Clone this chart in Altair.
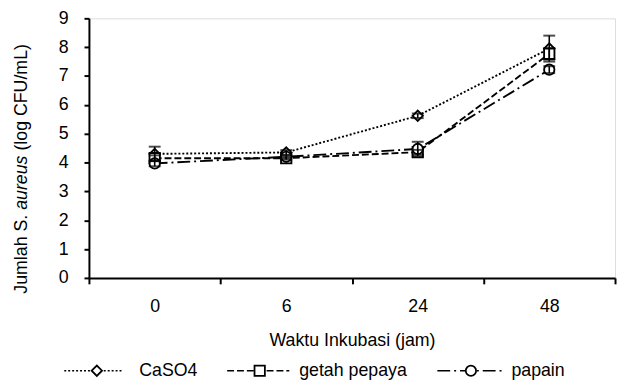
import altair as alt
import pandas as pd

# ---- data ----
hours = ["0", "6", "24", "48"]
series = ["CaSO4", "getah pepaya", "papain"]
caso4 = [4.30, 4.35, 5.62, 7.95]
getah = [4.15, 4.15, 4.36, 7.77]
papain = [3.97, 4.20, 4.47, 7.22]
err_caso4 = [0.25, 0.08, 0.08, 0.45]
err_getah = [0.10, 0.05, 0.08, 0.20]
err_papain = [0.10, 0.05, 0.25, 0.12]

rows = []
for name, vals, errs in zip(series, [caso4, getah, papain], [err_caso4, err_getah, err_papain]):
    for h, v, e in zip(hours, vals, errs):
        rows.append({"hour": h, "series": name, "value": v, "lo": v - e, "hi": v + e})
df = pd.DataFrame(rows)

FONT = "Liberation Sans"
FS = 18
W, H = 533, 263

xscale = alt.Scale(type="band", paddingInner=0, paddingOuter=0)
xaxis = alt.Axis(title="Waktu Inkubasi (jam)", labelAngle=0, tickBand="extent",
                 domainColor="black", domainWidth=2, tickColor="black", tickWidth=2,
                 tickSize=6, labelFont=FONT, labelFontSize=FS, labelColor="black",
                 labelPadding=14, titleFont=FONT, titleFontSize=FS, titleFontWeight="normal",
                 titleColor="black", titlePadding=16, grid=False)
yscale = alt.Scale(domain=[0, 9], nice=False, zero=True)
yaxis = alt.Axis(title=None, values=list(range(10)), domainColor="black", domainWidth=2,
                 tickColor="black", tickWidth=2, tickSize=5, labelFont=FONT,
                 labelFontSize=FS, labelColor="black", labelPadding=16, grid=False)


def X():
    return alt.X("hour:N", sort=hours, scale=xscale, axis=xaxis)


def Y(field):
    return alt.Y(f"{field}:Q", scale=yscale, axis=yaxis)


dashes = [[2, 2], [7, 3], [13, 4, 2, 4]]
shapes = ["diamond", "square", "circle"]
dash = alt.StrokeDash("series:N", scale=alt.Scale(domain=series, range=dashes), legend=None)
shape = alt.Shape("series:N", scale=alt.Scale(domain=series, range=shapes), legend=None)

base = alt.Chart(df)
lines = base.mark_line(color="black", strokeWidth=1.9).encode(x=X(), y=Y("value"), strokeDash=dash,
                                                              detail="series:N")
points = base.mark_point(filled=True, fill="white", stroke="black", strokeWidth=1.9, size=110,
                         opacity=1).encode(x=X(), y=Y("value"), shape=shape)
ebar = base.mark_rule(color="black", strokeWidth=1.6).encode(x=X(), y=Y("lo"), y2="hi:Q")
cap_hi = base.mark_tick(color="black", thickness=2, size=12).encode(x=X(), y=Y("hi"))
cap_lo = base.mark_tick(color="black", thickness=2, size=12).encode(x=X(), y=Y("lo"))

one = alt.Chart(pd.DataFrame({"a": [0]}))

# y axis title with italic species name
ytitle_x = -68
yt1 = one.mark_text(text="Jumlah S.", angle=270, align="left", baseline="middle", font=FONT,
                    fontSize=FS, color="black").encode(x=alt.value(ytitle_x), y=alt.value(279))
yt2 = one.mark_text(text="aureus", angle=270, align="left", baseline="middle", font=FONT,
                    fontSize=FS, fontStyle="italic", color="black").encode(x=alt.value(ytitle_x), y=alt.value(194))
yt3 = one.mark_text(text="(log CFU/mL)", angle=270, align="left", baseline="middle", font=FONT,
                    fontSize=FS, color="black").encode(x=alt.value(ytitle_x), y=alt.value(134))

# legend at the bottom
LY = 357
seg = [(-25, 33, 8, 51), (140, 203, 173, 213), (353, 420, 387, 428)]
legend_layers = []
for name, d, s, (x1, x2, xm, xt) in zip(series, dashes, shapes, seg):
    legend_layers.append(one.mark_rule(color="black", strokeWidth=1.6, strokeDash=d).encode(
        x=alt.value(x1), x2=alt.value(x2), y=alt.value(LY)))
    legend_layers.append(one.mark_point(shape=s, filled=True, fill="white", stroke="black",
                                        strokeWidth=1.8, size=110, opacity=1).encode(
        x=alt.value(xm), y=alt.value(LY)))
    legend_layers.append(one.mark_text(text=name, align="left", baseline="middle", font=FONT,
                                       fontSize=FS, color="black").encode(
        x=alt.value(xt), y=alt.value(LY)))

chart = alt.layer(lines, points, ebar, cap_hi, cap_lo, yt1, yt2, yt3, *legend_layers).properties(
    width=W, height=H,
    autosize=alt.AutoSizeParams(type="none"),
    padding={"left": 82, "top": 8, "right": 2, "bottom": 104},
).configure_view(stroke=None).configure(background="white")

chart.save("out.html", embed_options={"renderer": "svg", "actions": False})
